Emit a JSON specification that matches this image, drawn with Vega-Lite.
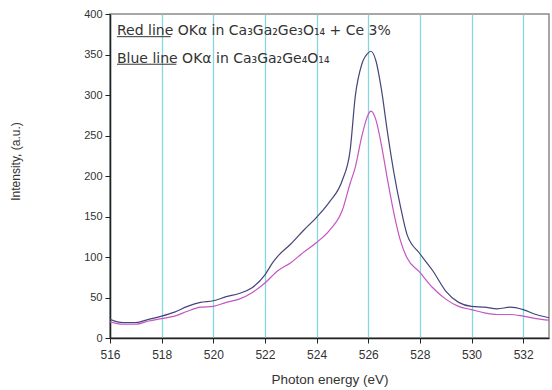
{
  "$schema": "https://vega.github.io/schema/vega-lite/v6.json",
  "width": 439,
  "height": 324,
  "autosize": {"type": "none"},
  "padding": {"left": 110, "top": 14, "right": 3, "bottom": 52},
  "background": "white",
  "config": {
    "view": {"stroke": "#8a8a8a", "strokeWidth": 1.5},
    "axis": {"labelFont": "Liberation Sans", "titleFont": "Liberation Sans", "labelColor": "#333", "titleColor": "#333", "domainColor": "#222", "tickColor": "#222", "domainWidth": 1.5}
  },
  "datasets": {
    "spectra": [
      {"E": 516, "I": 23, "s": "Blue"}, {"E": 516.5, "I": 19, "s": "Blue"}, {"E": 517, "I": 19, "s": "Blue"}, {"E": 517.5, "I": 23, "s": "Blue"},
      {"E": 518, "I": 27, "s": "Blue"}, {"E": 518.5, "I": 32, "s": "Blue"}, {"E": 519, "I": 39, "s": "Blue"}, {"E": 519.5, "I": 44, "s": "Blue"},
      {"E": 520, "I": 46, "s": "Blue"}, {"E": 520.5, "I": 51, "s": "Blue"}, {"E": 521, "I": 55, "s": "Blue"}, {"E": 521.5, "I": 62, "s": "Blue"},
      {"E": 522, "I": 78, "s": "Blue"}, {"E": 522.3, "I": 93, "s": "Blue"}, {"E": 522.5, "I": 101, "s": "Blue"}, {"E": 523, "I": 116, "s": "Blue"},
      {"E": 523.5, "I": 133, "s": "Blue"}, {"E": 524, "I": 149, "s": "Blue"}, {"E": 524.5, "I": 168, "s": "Blue"}, {"E": 525, "I": 195, "s": "Blue"},
      {"E": 525.3, "I": 232, "s": "Blue"}, {"E": 525.5, "I": 299, "s": "Blue"}, {"E": 525.75, "I": 338, "s": "Blue"}, {"E": 526, "I": 352, "s": "Blue"},
      {"E": 526.1, "I": 354, "s": "Blue"}, {"E": 526.3, "I": 342, "s": "Blue"}, {"E": 526.5, "I": 309, "s": "Blue"}, {"E": 526.75, "I": 253, "s": "Blue"},
      {"E": 527, "I": 203, "s": "Blue"}, {"E": 527.25, "I": 162, "s": "Blue"}, {"E": 527.5, "I": 128, "s": "Blue"}, {"E": 528, "I": 104, "s": "Blue"},
      {"E": 528.5, "I": 83, "s": "Blue"}, {"E": 529, "I": 58, "s": "Blue"}, {"E": 529.5, "I": 44, "s": "Blue"}, {"E": 530, "I": 39, "s": "Blue"},
      {"E": 530.5, "I": 38, "s": "Blue"}, {"E": 531, "I": 36, "s": "Blue"}, {"E": 531.5, "I": 38, "s": "Blue"}, {"E": 532, "I": 35, "s": "Blue"},
      {"E": 532.5, "I": 29, "s": "Blue"}, {"E": 533, "I": 25, "s": "Blue"},
      {"E": 516, "I": 20, "s": "Red"}, {"E": 516.5, "I": 17, "s": "Red"}, {"E": 517, "I": 17, "s": "Red"}, {"E": 517.5, "I": 21, "s": "Red"},
      {"E": 518, "I": 24, "s": "Red"}, {"E": 518.5, "I": 27, "s": "Red"}, {"E": 519, "I": 33, "s": "Red"}, {"E": 519.5, "I": 38, "s": "Red"},
      {"E": 520, "I": 39, "s": "Red"}, {"E": 520.5, "I": 44, "s": "Red"}, {"E": 521, "I": 48, "s": "Red"}, {"E": 521.5, "I": 56, "s": "Red"},
      {"E": 522, "I": 68, "s": "Red"}, {"E": 522.5, "I": 83, "s": "Red"}, {"E": 523, "I": 93, "s": "Red"}, {"E": 523.5, "I": 106, "s": "Red"},
      {"E": 524, "I": 118, "s": "Red"}, {"E": 524.5, "I": 133, "s": "Red"}, {"E": 525, "I": 158, "s": "Red"}, {"E": 525.3, "I": 191, "s": "Red"},
      {"E": 525.5, "I": 211, "s": "Red"}, {"E": 525.75, "I": 249, "s": "Red"}, {"E": 526, "I": 276, "s": "Red"}, {"E": 526.1, "I": 280, "s": "Red"},
      {"E": 526.3, "I": 269, "s": "Red"}, {"E": 526.5, "I": 240, "s": "Red"}, {"E": 526.75, "I": 195, "s": "Red"}, {"E": 527, "I": 153, "s": "Red"},
      {"E": 527.25, "I": 120, "s": "Red"}, {"E": 527.5, "I": 99, "s": "Red"}, {"E": 528, "I": 81, "s": "Red"}, {"E": 528.5, "I": 62, "s": "Red"},
      {"E": 529, "I": 48, "s": "Red"}, {"E": 529.5, "I": 39, "s": "Red"}, {"E": 530, "I": 35, "s": "Red"}, {"E": 530.5, "I": 31, "s": "Red"},
      {"E": 531, "I": 29, "s": "Red"}, {"E": 531.5, "I": 29, "s": "Red"}, {"E": 532, "I": 27, "s": "Red"}, {"E": 532.5, "I": 24, "s": "Red"},
      {"E": 533, "I": 22, "s": "Red"}
    ],
    "labels": [
      {"x": 516.27, "y": 374, "t": "Red line OKα in Ca₃Ga₂Ge₃O₁₄ + Ce 3%", "ux2": 518.35, "uy": 372},
      {"x": 516.27, "y": 340, "t": "Blue line OKα in Ca₃Ga₂Ge₄O₁₄", "ux2": 518.57, "uy": 338}
    ]
  },
  "layer": [
    {
      "data": {"name": "spectra"},
      "mark": {"type": "line", "strokeWidth": 1.2, "interpolate": "monotone", "clip": true},
      "encoding": {
        "x": {"field": "E", "type": "quantitative", "scale": {"domain": [516, 533], "nice": false, "zero": false},
          "axis": {"title": "Photon energy (eV)", "titleFontSize": 13.5, "titleFontWeight": "normal", "titlePadding": 12,
            "values": [516,517,518,519,520,521,522,523,524,525,526,527,528,529,530,531,532,533],
            "labelExpr": "datum.value % 2 === 0 && datum.value < 533 ? datum.label : ''",
            "labelFontSize": 12, "tickSize": 5, "labelPadding": 6, "labelFlush": false, "labelOverlap": false,
            "grid": true,
            "gridColor": {"condition": {"test": "datum.value % 2 === 0", "value": "#86d6dc"}, "value": "#ececec"},
            "gridWidth": {"condition": {"test": "datum.value % 2 === 0", "value": 1.3}, "value": 1}}},
        "y": {"field": "I", "type": "quantitative", "scale": {"domain": [0, 400], "nice": false},
          "axis": {"title": "Intensity, (a.u.)", "titleFontSize": 12, "titleFontWeight": "normal", "titleX": -88, "titleY": 147,
            "values": [0,25,50,75,100,125,150,175,200,225,250,275,300,325,350,375,400],
            "labelExpr": "datum.value % 50 === 0 ? datum.label : ''",
            "labelFontSize": 11, "grid": false,
            "tickSize": {"condition": {"test": "datum.value % 50 === 0", "value": 5}, "value": 3}, "labelPadding": 3}},
        "color": {"field": "s", "type": "nominal", "scale": {"domain": ["Blue", "Red"], "range": ["#45457a", "#c456c4"]}, "legend": null}
      }
    },
    {
      "mark": {"type": "rule", "color": "#111", "strokeWidth": 1.5},
      "encoding": {"x": {"datum": 533}}
    },
    {
      "data": {"name": "labels"},
      "mark": {"type": "text", "align": "left", "baseline": "alphabetic", "font": "DejaVu Sans", "fontSize": 14, "color": "#333"},
      "encoding": {"x": {"field": "x", "type": "quantitative"}, "y": {"field": "y", "type": "quantitative"}, "text": {"field": "t"}}
    },
    {
      "data": {"name": "labels"},
      "mark": {"type": "rule", "color": "#333", "strokeWidth": 1},
      "encoding": {"x": {"field": "x", "type": "quantitative"}, "x2": {"field": "ux2"}, "y": {"field": "uy", "type": "quantitative"}}
    }
  ]
}
